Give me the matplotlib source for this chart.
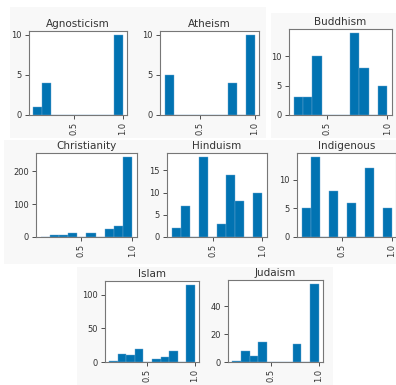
import matplotlib
matplotlib.use('Agg')
import matplotlib.pyplot as plt
from matplotlib.patches import Rectangle
from matplotlib.ticker import MaxNLocator
import numpy as np

W, H = 396, 385

# religion, data range (min, max), counts in the 10 histogram bins
religions = ['Agnosticism', 'Atheism', 'Buddhism', 'Christianity',
             'Hinduism', 'Indigenous', 'Islam', 'Judaism']
range_lo = [0.09, 0.167, 0.23, 0.10, 0.087, 0.093, 0.10, 0.086]
range_hi = [1.0, 1.0, 1.0, 1.0, 1.0, 1.0, 1.0, 1.0]
counts_agnosticism = [1, 4, 0, 0, 0, 0, 0, 0, 0, 10]
counts_atheism = [5, 0, 0, 0, 0, 0, 0, 4, 0, 10]
counts_buddhism = [3, 3, 10, 0, 0, 0, 14, 8, 0, 5]
counts_christianity = [1, 5, 5, 12, 0, 12, 0, 25, 34, 243]
counts_hinduism = [2, 7, 0, 18, 0, 3, 14, 8, 0, 10]
counts_indigenous = [5, 14, 0, 8, 0, 6, 0, 12, 0, 5]
counts_islam = [2, 12, 10, 19, 0, 4, 8, 16, 0, 115]
counts_judaism = [1, 8, 4, 14, 0, 0, 0, 13, 0, 56]
all_counts = [counts_agnosticism, counts_atheism, counts_buddhism,
              counts_christianity, counts_hinduism, counts_indigenous,
              counts_islam, counts_judaism]

# axes boxes in pixels: left, top, right, bottom
boxes = [(29, 31, 127, 115), (160, 31, 259, 115), (289, 29, 392, 115),
         (36, 153, 137, 237), (167, 153, 267, 237), (297, 153, 396, 237),
         (105, 281, 199, 362), (228, 280, 323, 362)]
# light grey screenshot panels behind each row
panels = [(10, 7, 266, 138), (271, 13, 396, 138),
          (4, 140, 396, 264), (77, 267, 333, 385)]

blue = '#0173b2'
txt = '#333333'

fig = plt.figure(figsize=(W / 100, H / 100), dpi=100)
for x0, y0, x1, y1 in panels:
    fig.patches.append(Rectangle((x0 / W, 1 - y1 / H), (x1 - x0) / W, (y1 - y0) / H,
                                 transform=fig.transFigure, facecolor='#f8f8f8',
                                 edgecolor='none', zorder=-10))

for name, lo, hi, counts, (l, t, r, b) in zip(religions, range_lo, range_hi, all_counts, boxes):
    ax = fig.add_axes([l / W, 1 - b / H, (r - l) / W, (b - t) / H], zorder=1)
    edges = np.linspace(lo, hi, 11)
    centers = (edges[:-1] + edges[1:]) / 2
    ax.hist(centers, bins=edges, weights=counts, color=blue,
            edgecolor='#6aa6d0', linewidth=0.3)
    ax.set_title(name, fontsize=7.5, color=txt, pad=3)
    ax.set_xticks([0.5, 1.0])
    ax.set_xticklabels(['0.5', '1.0'], rotation=90)
    ax.yaxis.set_major_locator(MaxNLocator(nbins=4, steps=[1, 2, 5, 10]))
    ax.tick_params(labelsize=6, colors=txt, length=3, width=0.6, pad=2)
    for s in ax.spines.values():
        s.set_color('#777777')
        s.set_linewidth(0.8)

fig.savefig('out.png', dpi=100)
